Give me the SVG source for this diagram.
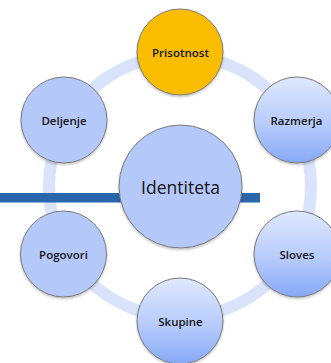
<svg xmlns="http://www.w3.org/2000/svg" width="331" height="363" viewBox="0 0 331 363">
  <defs>
    <linearGradient id="nodeGrad" x1="0" y1="0" x2="0" y2="1">
      <stop offset="0" stop-color="#dfe8fd"/>
      <stop offset="0.55" stop-color="#b7cbfb"/>
      <stop offset="1" stop-color="#86a9f6"/>
    </linearGradient>
    <filter id="shadow" x="-20%" y="-20%" width="140%" height="150%">
      <feDropShadow dx="0" dy="1.5" stdDeviation="1.2" flood-color="#000" flood-opacity="0.25"/>
    </filter>
    <style>
      .ring { fill: none; stroke: #d9e3fb; stroke-width: 12; }
      .node { stroke: #7a7a7a; stroke-width: 1; filter: url(#shadow); }
      .flat { fill: #b5c8fa; }
      .grad { fill: url(#nodeGrad); }
      .gold { fill: #fbbd00; }
      .label { font-family: "Open Sans", "Liberation Sans", Arial, sans-serif; font-weight: 600; font-size: 11.5px; fill: #141414; text-anchor: middle; }
      .big { font-size: 17.5px; font-weight: 400; }
    </style>
  </defs>

  <rect width="331" height="363" fill="#ffffff"/>

  <!-- connectors: ring linking the outer nodes -->
  <g id="connectors">
    <circle class="ring" cx="180" cy="186.5" r="131"/>
  </g>

  <!-- horizontal accent bar -->
  <rect x="0" y="193" width="260" height="9.5" fill="#2a66ac"/>

  <g id="node-identiteta">
    <circle class="node flat" cx="180.5" cy="186.5" r="61.5" fill="#b3c7fb"/>
    <text class="label big" x="180.5" y="193.5">Identiteta</text>
  </g>

  <g id="node-prisotnost">
    <circle class="node gold" cx="180" cy="52" r="43"/>
    <text class="label" x="180.5" y="56.5">Prisotnost</text>
  </g>

  <g id="node-razmerja">
    <circle class="node grad" cx="297" cy="120" r="43"/>
    <text class="label" x="296.5" y="124.5">Razmerja</text>
  </g>

  <g id="node-sloves">
    <circle class="node grad" cx="297" cy="254" r="43"/>
    <text class="label" x="297" y="258.5">Sloves</text>
  </g>

  <g id="node-skupine">
    <circle class="node grad" cx="180" cy="321" r="43"/>
    <text class="label" x="180.5" y="325.5">Skupine</text>
  </g>

  <g id="node-pogovori">
    <circle class="node flat" cx="63.5" cy="254" r="43"/>
    <text class="label" x="63.5" y="258.5">Pogovori</text>
  </g>

  <g id="node-deljenje">
    <circle class="node flat" cx="64" cy="120" r="43"/>
    <text class="label" x="64" y="124.5">Deljenje</text>
  </g>
</svg>
